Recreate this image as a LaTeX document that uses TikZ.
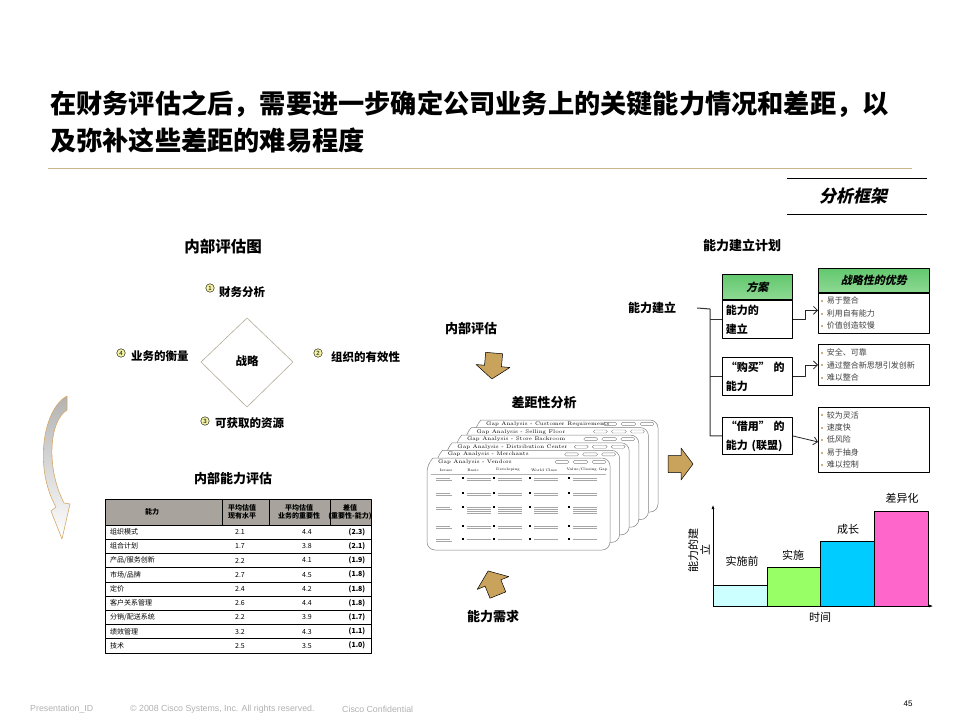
\documentclass[tikz,border=0pt]{standalone}
\usepackage{fontspec}
\setsansfont{Liberation Sans}
\newfontfamily\cjk{Noto Sans CJK SC}
\newfontfamily\cjkit[FakeSlant=0.22]{Noto Sans CJK SC}
\usetikzlibrary{arrows.meta}
\usetikzlibrary{positioning}

\tikzset{
  heading/.style={inner sep=0pt, font=\cjk\bfseries\fontsize{13}{15}\selectfont},
  point/.style={inner sep=0pt, anchor=west, font=\cjk\bfseries\fontsize{11.5}{14}\selectfont},
  numdot/.style={circle, draw=black, line width=0.4pt, fill=numyellow, inner sep=0pt, minimum size=8.5pt, font=\sffamily\fontsize{6}{6}\selectfont},
  cell/.style={inner sep=0pt, font=\cjk\fontsize{7}{8}\selectfont},
  plan/.style={draw=black, line width=0.9pt, fill=white, anchor=north west, minimum width=70pt, text width=63pt, align=left, inner sep=0pt, font=\cjk\bfseries\fontsize{11}{19}\selectfont},
  greenhead/.style={draw=black, line width=0.9pt, top color=greentop, bottom color=greenbot, anchor=north west, inner sep=0pt, font=\cjkit\bfseries\fontsize{11}{13}\selectfont},
  merits/.style={draw=black, line width=0.9pt, fill=white, anchor=north west, minimum width=111pt, text width=105pt, align=left, inner sep=0pt, text=black!75, font=\cjk\fontsize{8}{12.4}\selectfont},
  branch/.style={draw=black!80, line width=1pt},
  pointer/.style={draw=black!85, line width=0.8pt, -{Straight Barb[length=4pt,width=8pt]}},
  blockarrow/.style={fill=arrowtan, draw=black, line width=0.5pt},
  card/.style={fill=white, draw=gray, line width=0.5pt},
  cardtitle/.style={inner sep=0pt, anchor=west, font=\rmfamily\fontsize{5.2}{6}\selectfont},
  greek/.style={draw=gray!70, line width=0.6pt},
  bar/.style={draw=black, line width=0.5pt},
  foot/.style={inner sep=0pt, anchor=west, text=footgray, font=\sffamily\fontsize{8.8}{10}\selectfont}
}

\newcommand{\bul}{\raisebox{1.8pt}{\textcolor{bultan}{\rule{2pt}{2pt}}}\hspace{3.5pt}}

\begin{document}
\begin{tikzpicture}[x=1pt, y=-1pt, line join=round, font=\cjk]

\definecolor{titlegold}{HTML}{CBB68C}
\definecolor{numyellow}{HTML}{F2F2A2}
\definecolor{diamondgray}{HTML}{B3AC9A}
\definecolor{headgray}{HTML}{A8A49D}
\definecolor{greentop}{HTML}{62C86E}
\definecolor{greenbot}{HTML}{8ED993}
\definecolor{arrowtan}{HTML}{C9A25C}
\definecolor{curvetan}{HTML}{D6A866}
\definecolor{bultan}{HTML}{D2B07E}
\definecolor{footgray}{HTML}{B0B0B0}
\definecolor{barA}{HTML}{CCFFFF}
\definecolor{barB}{HTML}{99FF66}
\definecolor{barC}{HTML}{00CCFF}
\definecolor{barD}{HTML}{FF66CC}

\useasboundingbox (0,0) rectangle (960,720);

% title
\node[anchor=west, align=left, inner sep=0pt, font=\cjk\bfseries\fontsize{26.2}{37}\selectfont] (title) at (50,122) {在财务评估之后，需要进一步确定公司业务上的关键能力情况和差距，以\\及弥补这些差距的难易程度};
\draw[titlegold, line width=1pt] (48,168) -- (912,168);
\draw[line width=0.8pt] (787,178) -- (927,178);
\draw[line width=0.8pt] (787,214) -- (927,214);
\node[inner sep=0pt, font=\cjkit\bfseries\fontsize{17}{19}\selectfont] (frame) at (853,196) {分析框架};

% internal assessment
\node[heading, font=\cjk\bfseries\fontsize{15.5}{17}\selectfont] (innermap) at (223,247) {内部评估图};
\draw[diamondgray, line width=0.6pt] (247,318) -- (293,362) -- (247,407) -- (201,362) -- cycle;
\node[inner sep=0pt, font=\cjk\bfseries\fontsize{11.5}{14}\selectfont] (strategy) at (247,361) {战略};
\node[numdot] (n1) at (210,288) {1};
\node[point] (finance) at (219,292) {财务分析};
\node[numdot] (n2) at (318,353) {2};
\node[point] (org) at (331,357) {组织的有效性};
\node[numdot] (n3) at (205,421) {3};
\node[point] (resource) at (215,423) {可获取的资源};
\node[numdot] (n4) at (121,353) {4};
\node[point] (measure) at (131,356) {业务的衡量};

\shade[top color=gray!60, bottom color=white, draw=curvetan, line width=0.6pt]
(67,396) .. controls (44,408) and (33,466) .. (56,507) -- (51,511) -- (62,539) -- (70,504) -- (64,503) .. controls (46,468) and (49,421) .. (67,410) -- cycle;

% capability table
\node[heading] (tabtitle) at (233,479) {内部能力评估};
\fill[headgray] (105,499) rectangle (371,525);
\draw[line width=0.6pt] (105,499) rectangle (371,653);
\foreach \x in {222,269,330}
  \draw[line width=0.6pt] (\x,499) -- (\x,525);
\foreach \k in {0,...,8}
  \draw[line width=0.5pt] (105,{525+14.2*\k}) -- (371,{525+14.2*\k});
\node[cell, font=\cjk\bfseries\fontsize{7}{8}\selectfont] (hcap) at (152,512) {能力};
\node[cell, align=center, font=\cjk\bfseries\fontsize{7}{8}\selectfont] (hnow) at (242,512) {平均估值\\现有水平};
\node[cell, align=center, font=\cjk\bfseries\fontsize{7}{8}\selectfont] (himp) at (299,512) {平均估值\\业务的重要性};
\node[cell, align=center, font=\cjk\bfseries\fontsize{7}{8}\selectfont] (hgap) at (350,512) {差值\\(重要性-能力)};
\foreach \nm/\a/\b/\d [count=\i] in {组织模式/2.1/4.4/(2.3), 组合计划/1.7/3.8/(2.1), {产品/服务创新}/2.2/4.1/(1.9), {市场/品牌}/2.7/4.5/(1.8), 定价/2.4/4.2/(1.8), 客户关系管理/2.6/4.4/(1.8), {分销/配送系统}/2.2/3.9/(1.7), 绩效管理/3.2/4.3/(1.1), 技术/2.5/3.5/(1.0)} {
  \node[cell, anchor=west] (cap\i) at (110,{517.9+14.2*\i}) {\nm};
  \node[cell] (now\i) at (240,{517.9+14.2*\i}) {\a};
  \node[cell] (imp\i) at (307,{517.9+14.2*\i}) {\b};
  \node[cell, font=\cjk\bfseries\fontsize{7}{8}\selectfont] (gap\i) at (357,{517.9+14.2*\i}) {\d};
}

% gap analysis
\node[heading] (inner) at (471,329) {内部评估};
\begin{scope}[shift={(493,366)}, rotate=-95]
\draw[blockarrow] (-13,-8.5) -- (0,-8.5) -- (0,-17) -- (13,0) -- (0,17) -- (0,8.5) -- (-13,8.5) -- cycle;
\end{scope}
\node[heading] (gaptitle) at (544,403) {差距性分析};
\foreach \t [count=\k from 0] in {Customer Requirements, Selling Floor, Store Backroom, Distribution Center, Merchants, Vendors} {
  \pgfmathsetmacro\xo{475-9.6*\k}
  \pgfmathsetmacro\yo{420+7.6*\k}
  \filldraw[card] ({\xo+6},\yo) [rounded corners=8pt] -- ({\xo+183},\yo) -- ({\xo+183},{\yo+92}) -- (\xo,{\yo+92}) -- (\xo,{\yo+6}) [sharp corners] -- cycle;
  \node[cardtitle] (card\k) at ({\xo+11},{\yo+4.2}) {Gap Analysis - \t};
  \foreach \a/\b in {128/142,146/161,165/179}
    \draw[gray, line width=0.4pt, rounded corners=1.5pt] ({\xo+\a},{\yo+2.4}) rectangle ({\xo+\b},{\yo+5.4});
}
\foreach \h/\x in {Issues/446, Basic/473, Developing/508, World Class/544, {Value/Closing Gap}/587}
  \node[inner sep=0pt, font=\rmfamily\fontsize{3.6}{4}\selectfont] at (\x,470) {\h};
\draw[gray!60, line width=0.4pt] (431,474) -- (606,474);
\foreach \ry/\nl in {478/2, 493/2, 507/4, 526/2, 539/1} {
  \draw[greek] (436,\ry) -- ++(14,0);
  \draw[greek] (436,{\ry+2.2}) -- ++(16,0);
  \foreach \cx in {463,494,530,569} {
    \fill ({\cx-1},{\ry-1}) rectangle ++(2,2);
    \foreach \j in {1,...,\nl}
      \draw[greek] ({\cx+4},{\ry+2.2*(\j-1)}) -- ++(24,0);
  }
}
\begin{scope}[shift={(493,583)}, rotate=112]
\draw[blockarrow] (-13,-8.5) -- (0,-8.5) -- (0,-17) -- (13,0) -- (0,17) -- (0,8.5) -- (-13,8.5) -- cycle;
\end{scope}
\node[heading] (need) at (493,617) {能力需求};
\begin{scope}[shift={(680,464)}]
\draw[blockarrow] (-12,-8.5) -- (1,-8.5) -- (1,-16) -- (13,0) -- (1,16) -- (1,8.5) -- (-12,8.5) -- cycle;
\end{scope}

% capability building plan
\node[heading] (plantitle) at (742,245) {能力建立计划};
\node[point, anchor=center, font=\cjk\bfseries\fontsize{12}{14}\selectfont] (root) at (652,308) {能力建立};
\node[greenhead, minimum width=70pt, minimum height=25pt] (scheme) at (722,274) {方案};
\node[plan, minimum height=38pt, below=0pt of scheme] (own) {能力的\\建立};
\node[plan, minimum height=38pt] (buy) at (722,357) {“购买” 的\\能力};
\node[plan, minimum height=37pt] (borrow) at (722,417) {“借用” 的\\能力 (联盟)};
\node[greenhead, minimum width=111pt, minimum height=24pt] (adv) at (818,268) {战略性的优势};
\node[merits, minimum height=40pt, below=0pt of adv] (opt1) {\bul 易于整合\\\bul 利用自有能力\\\bul 价值创造较慢};
\node[merits, minimum height=41pt] (opt2) at (818,344) {\bul 安全、可靠\\\bul 通过整合新思想引发创新\\\bul 难以整合};
\node[merits, minimum height=65pt] (opt3) at (818,407) {\bul 较为灵活\\\bul 速度快\\\bul 低风险\\\bul 易于抽身\\\bul 难以控制};
\coordinate (trunk) at (710,309);
\draw[branch] (root.east) ++(21,0) -- (trunk) -- (trunk |- borrow.west) -- (borrow.west);
\draw[branch] (trunk |- own.west) -- (own.west);
\draw[branch] (trunk |- buy.west) -- (buy.west);
\draw[pointer] (own.east) -- ++(12,0) |- ([yshift=3pt]opt1.west);
\draw[pointer] (buy.east) -- ++(12,0) |- (opt2.west);
\draw[pointer] (borrow.east) -- ([yshift=-2pt]opt3.west);

% chart
\coordinate (origin) at (713,606);
\draw[bar, fill=barA] (713,606) rectangle (767,585);
\draw[bar, fill=barB] (767,606) rectangle (820,567);
\draw[bar, fill=barC] (820,606) rectangle (874,541);
\draw[bar, fill=barD] (874,606) rectangle (928,511);
\draw[line width=0.6pt, -{Latex[length=4pt,width=3pt]}] (origin) -- (713,505);
\draw[line width=0.6pt, -{Latex[length=4pt,width=3pt]}] (origin) -- (933,606);
\node[inner sep=0pt, font=\cjk\fontsize{11}{12}\selectfont] (before) at (742,561) {实施前};
\node[inner sep=0pt, font=\cjk\fontsize{11}{12}\selectfont] (impl) at (793,555) {实施};
\node[inner sep=0pt, font=\cjk\fontsize{11}{12}\selectfont] (grow) at (848,529) {成长};
\node[inner sep=0pt, font=\cjk\fontsize{11}{12}\selectfont] (diff) at (902,498) {差异化};
\node[inner sep=0pt, font=\cjk\fontsize{11}{12}\selectfont] (time) at (820,617) {时间};
\node[inner sep=0pt, rotate=90, align=center, font=\cjk\fontsize{11}{12}\selectfont] (ylab) at (699,550) {能力的建\\立};

% footer
\node[foot] (fid) at (30,709) {Presentation\_ID};
\node[foot] (fcopy) at (130,709) {© 2008 Cisco Systems, Inc. All rights reserved.};
\node[foot] (fconf) at (342,709) {Cisco Confidential};
\node[inner sep=0pt, font=\sffamily\fontsize{8}{9}\selectfont] (page) at (908,704) {45};

\end{tikzpicture}
\end{document}
